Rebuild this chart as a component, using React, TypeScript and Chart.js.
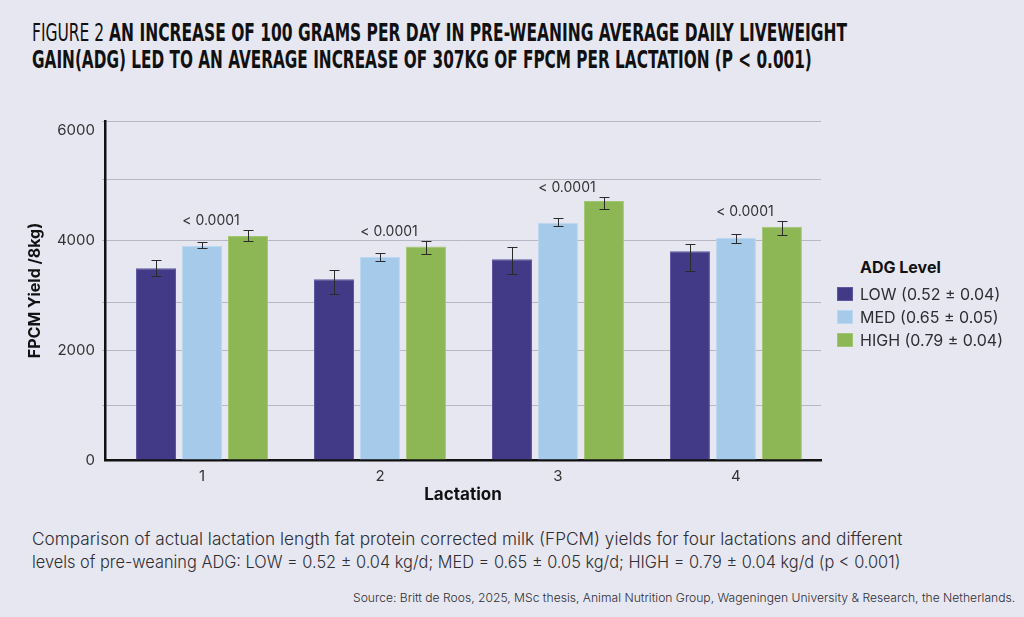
import React, { useEffect, useLayoutEffect, useRef, useState } from "react";
import { Chart, registerables } from "chart.js";

Chart.register(...registerables);

// ---- data ----
const lactations = ["1", "2", "3", "4"];
const seriesLabels = ["LOW (0.52 ± 0.04)", "MED (0.65 ± 0.05)", "HIGH (0.79 ± 0.04)"];
const lowYield = [3495, 3294, 3659, 3805];
const medYield = [3901, 3701, 4327, 4053];
const highYield = [4084, 3890, 4722, 4254];
// error bar bounds [lower, upper]
const lowBounds = [[3354, 3646], [3026, 3464], [3386, 3878], [3446, 3944]];
const medBounds = [[3860, 3969], [3628, 3768], [4260, 4406], [3950, 4114]];
const highBounds = [[3987, 4188], [3761, 3987], [4571, 4800], [4097, 4363]];
const pLabels = ["< 0.0001", "< 0.0001", "< 0.0001", "< 0.0001"];
// grid lines as drawn in the original (irregular) and the labelled ticks
const yGridValues = [0, 985, 2000, 2870, 4000, 5110, 6000, 6180];
const yLabelValues = [0, 2000, 4000, 6000];

const seriesColors = ["#433a87", "#a6cbea", "#8db654"];
const seriesBorders = ["#5d56a0", "#bcd8f0", "#a3c571"];
const BG = "#e7e7f2";
const TEXT = "#2e2e33";

const errorBarPlugin = {
  id: "errorBars",
  afterDatasetsDraw(chart: any) {
    const { ctx } = chart;
    const y = chart.scales.y;
    const bounds = [lowBounds, medBounds, highBounds];
    ctx.save();
    ctx.strokeStyle = "#2a2a2a";
    ctx.lineWidth = 1;
    chart.data.datasets.forEach((_ds: any, di: number) => {
      const meta = chart.getDatasetMeta(di);
      meta.data.forEach((bar: any, i: number) => {
        const [lo, hi] = bounds[di][i];
        const x = Math.round(bar.x) + 0.5;
        const yl = Math.round(y.getPixelForValue(lo)) + 0.5;
        const yh = Math.round(y.getPixelForValue(hi)) + 0.5;
        const cap = 5;
        ctx.beginPath();
        ctx.moveTo(x, yl);
        ctx.lineTo(x, yh);
        ctx.moveTo(x - cap, yl);
        ctx.lineTo(x + cap, yl);
        ctx.moveTo(x - cap, yh);
        ctx.lineTo(x + cap, yh);
        ctx.stroke();
      });
    });
    const medMeta = chart.getDatasetMeta(1);
    ctx.fillStyle = "#333";
    ctx.font = "14px Inter";
    ctx.textAlign = "center";
    ctx.textBaseline = "middle";
    pLabels.forEach((t, i) => {
      const x = medMeta.data[i].x + 9;
      const yp = y.getPixelForValue(highBounds[i][1]) - 9;
      ctx.fillText(t, x, yp);
    });
    ctx.restore();
  },
};

function FitText({
  width,
  style,
  children,
}: {
  width: number;
  style: React.CSSProperties;
  children: React.ReactNode;
}) {
  const ref = useRef<HTMLSpanElement>(null);
  const [scale, setScale] = useState(1);
  useLayoutEffect(() => {
    const measure = () => {
      const el = ref.current;
      if (el && el.offsetWidth > 0) setScale(width / el.offsetWidth);
    };
    measure();
    if ((document as any).fonts) (document as any).fonts.ready.then(measure);
  }, [width]);
  return (
    <div
      style={{
        position: "absolute",
        whiteSpace: "nowrap",
        transformOrigin: "0 0",
        transform: `scaleX(${scale})`,
        ...style,
      }}
    >
      <span ref={ref} style={{ display: "inline-block" }}>
        {children}
      </span>
    </div>
  );
}

const FPCMChart: React.FC = () => {
  const chartRef = useRef<HTMLCanvasElement>(null);
  const chartInstanceRef = useRef<Chart | null>(null);

  useEffect(() => {
    const ctx = chartRef.current?.getContext("2d");
    if (!ctx) return;
    if (chartInstanceRef.current) chartInstanceRef.current.destroy();

    const values = [lowYield, medYield, highYield];

    chartInstanceRef.current = new Chart(ctx, {
      type: "bar",
      data: {
        labels: lactations,
        datasets: seriesLabels.map((label, i) => ({
          label,
          data: values[i],
          backgroundColor: seriesColors[i],
          borderColor: seriesBorders[i],
          borderWidth: 1,
          categoryPercentage: 0.775,
          barPercentage: 0.87,
        })),
      },
      options: {
        animation: false,
        responsive: false,
        maintainAspectRatio: false,
        layout: { padding: { left: 26, right: 19, top: 21, bottom: 0 } },
        plugins: {
          legend: { display: false },
          tooltip: { enabled: false },
        },
        scales: {
          x: {
            type: "linear",
            offset: false,
            min: 0.455,
            max: 4.478,
            afterBuildTicks: (scale: any) => {
              scale.ticks = lactations.map((v) => ({ value: +v }));
            },
            afterFit: (scale: any) => {
              scale.height = 45;
            },
            grid: { display: false, drawTicks: false },
            border: { color: "#111", width: 2.5 },
            ticks: {
              padding: 7,
              color: "#333",
              font: { family: "Inter", size: 15 },
              callback: (v: any) => String(v),
            },
            title: {
              display: true,
              text: "Lactation",
              color: "#111",
              padding: 0,
              font: { family: "Inter", size: 17, weight: "bold" },
            },
          },
          y: {
            min: 0,
            max: 6180,
            afterBuildTicks: (scale: any) => {
              scale.ticks = yGridValues.map((v) => ({ value: v }));
            },
            afterFit: (scale: any) => {
              scale.width = 79;
            },
            grid: {
              color: (c: any) =>
                c.tick && (c.tick.value === 0 || c.tick.value === 6000)
                  ? "rgba(0,0,0,0)"
                  : "#b8b8c4",
              lineWidth: 1,
              tickLength: 3,
            },
            border: { color: "#111", width: 2.5 },
            ticks: {
              padding: 7,
              color: "#333",
              font: { family: "Inter", size: 15 },
              callback: (v: any) => (yLabelValues.includes(v) ? String(v) : ""),
            },
            title: {
              display: true,
              text: "FPCM Yield /8kg)",
              color: "#111",
              padding: 0,
              font: { family: "Inter", size: 16, weight: "bold" },
            },
          },
        },
      },
      plugins: [errorBarPlugin],
    } as any);

    return () => {
      if (chartInstanceRef.current) {
        chartInstanceRef.current.destroy();
        chartInstanceRef.current = null;
      }
    };
  }, []);

  const titleFont: React.CSSProperties = {
    fontFamily: "'Liberation Sans Narrow', 'DejaVu Sans Condensed', sans-serif",
    fontSize: 24,
    lineHeight: "27px",
    color: "#111",
  };
  const bodyFont: React.CSSProperties = { fontFamily: "Inter, sans-serif", color: TEXT };

  return (
    <div
      style={{
        position: "absolute",
        left: 0,
        top: 0,
        width: 1024,
        height: 617,
        background: BG,
        overflow: "hidden",
      }}
    >
      <FitText width={815} style={{ ...titleFont, left: 32, top: 20 }}>
        <span style={{ fontWeight: 400 }}>FIGURE 2 </span>
        <span style={{ fontWeight: 700 }}>
          AN INCREASE OF 100 GRAMS PER DAY IN PRE-WEANING AVERAGE DAILY LIVEWEIGHT
        </span>
      </FitText>
      <FitText width={780} style={{ ...titleFont, left: 32, top: 47, fontWeight: 700 }}>
        GAIN(ADG) LED TO AN AVERAGE INCREASE OF 307KG OF FPCM PER LACTATION (P &lt; 0.001)
      </FitText>

      <canvas
        ref={chartRef}
        width={840}
        height={405}
        style={{ position: "absolute", left: 0, top: 100, width: 840, height: 405 }}
      />

      <div
        style={{
          ...bodyFont,
          position: "absolute",
          left: 860,
          top: 258,
          fontSize: 16,
          fontWeight: 700,
          color: "#111",
          lineHeight: "19px",
        }}
      >
        ADG Level
      </div>
      {seriesLabels.map((label, i) => (
        <div key={label}>
          <div
            style={{
              position: "absolute",
              left: 837,
              top: 287 + i * 23,
              width: 16,
              height: 14,
              background: seriesColors[i],
              boxSizing: "border-box",
              border: `1px solid ${seriesBorders[i]}`,
            }}
          />
          <div
            style={{
              ...bodyFont,
              position: "absolute",
              left: 860,
              top: 285 + i * 23,
              fontSize: 16,
              lineHeight: "19px",
              whiteSpace: "nowrap",
            }}
          >
            {label}
          </div>
        </div>
      ))}

      <FitText
        width={870}
        style={{ ...bodyFont, left: 32, top: 528, fontSize: 17, lineHeight: "23px", fontWeight: 300 }}
      >
        Comparison of actual lactation length fat protein corrected milk (FPCM) yields for four lactations and different
      </FitText>
      <FitText
        width={868}
        style={{ ...bodyFont, left: 32, top: 551, fontSize: 17, lineHeight: "23px", fontWeight: 300 }}
      >
        levels of pre-weaning ADG: LOW = 0.52 ± 0.04 kg/d; MED = 0.65 ± 0.05 kg/d; HIGH = 0.79 ± 0.04 kg/d (p &lt; 0.001)
      </FitText>
      <FitText
        width={662}
        style={{ ...bodyFont, left: 353, top: 591, fontSize: 11.5, lineHeight: "14px", fontWeight: 300 }}
      >
        Source: Britt de Roos, 2025, MSc thesis, Animal Nutrition Group, Wageningen University &amp; Research, the Netherlands.
      </FitText>
    </div>
  );
};

export default FPCMChart;
